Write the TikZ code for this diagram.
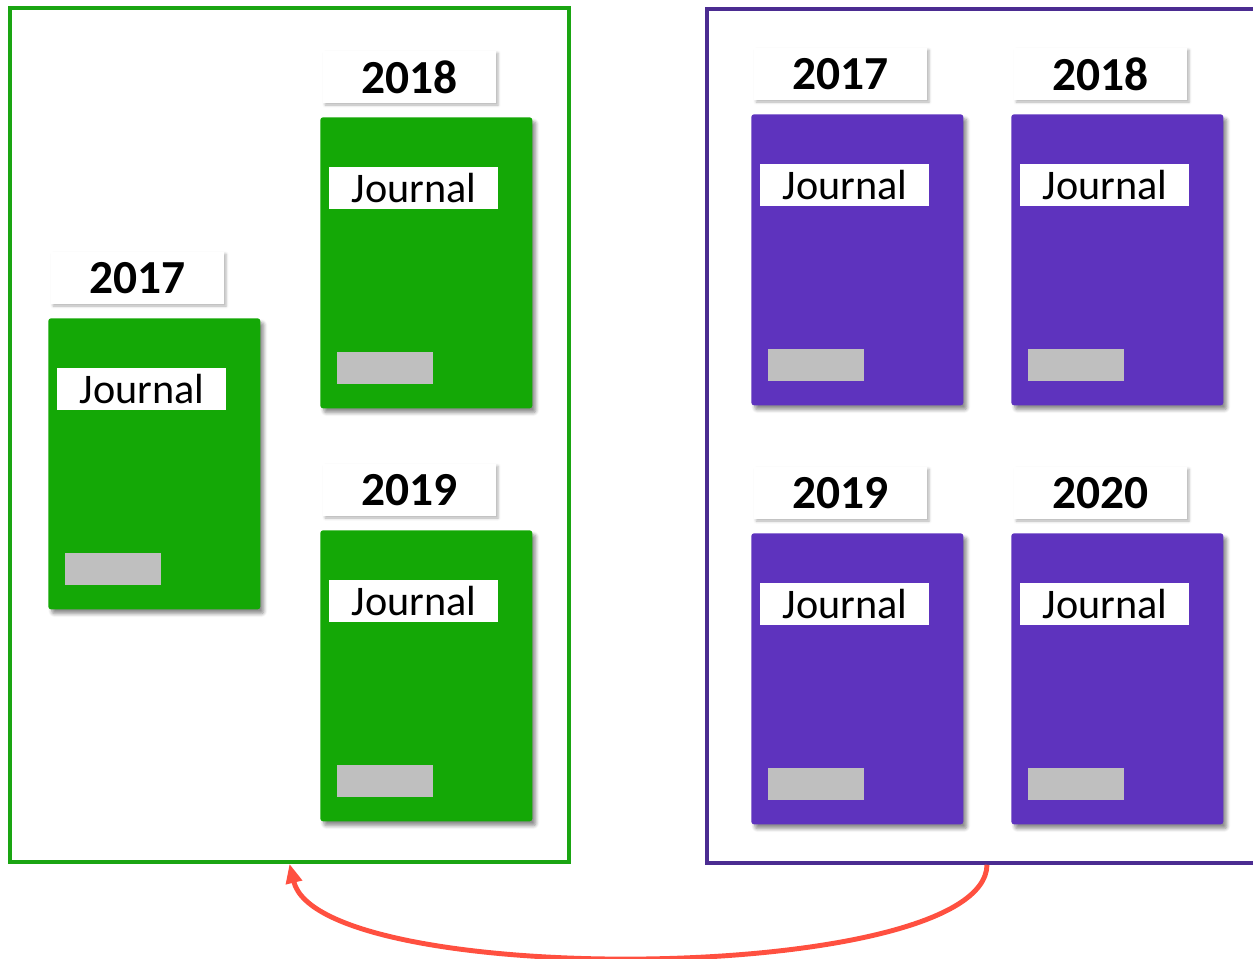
\documentclass[tikz,border=0pt]{standalone}
\usepackage{fontspec}
\setmainfont{Carlito}
\usetikzlibrary{arrows.meta,shadows.blur}

\definecolor{covergreen}{HTML}{14A806}
\definecolor{framegreen}{HTML}{1AA512}
\definecolor{coverpurple}{HTML}{5E33BE}
\definecolor{framepurple}{HTML}{4B2C91}
\definecolor{bargray}{HTML}{BFBFBF}
\definecolor{arrowred}{HTML}{FF5040}

\tikzset{
  frame/.style={draw, line width=2.1pt, inner sep=0pt},
  cover/.style={anchor=north west, inner sep=0pt, rounded corners=1.5pt,
    minimum width=4.24cm, minimum height=5.82cm,
    blur shadow={shadow xshift=2pt, shadow yshift=-2.5pt, shadow blur radius=2pt,
      shadow blur steps=6, shadow opacity=45}},
  yearbox/.style={anchor=north west, fill=white, inner sep=0pt,
    minimum width=3.46cm, minimum height=1.04cm,
    font=\bfseries\fontsize{27}{29}\selectfont,
    blur shadow={shadow xshift=1pt, shadow yshift=-1pt, shadow blur radius=1.5pt,
      shadow blur steps=4, shadow opacity=30}},
  titlebox/.style={anchor=north west, fill=white, inner sep=0pt,
    minimum width=3.38cm, minimum height=0.84cm,
    font=\fontsize{24}{26}\selectfont},
  barbox/.style={anchor=north west, fill=bargray, inner sep=0pt,
    minimum width=1.92cm, minimum height=0.64cm},
  move/.style={draw=arrowred, line width=2.8pt, -{Triangle[length=11pt,width=9pt]}}
}

% one journal cover: name, top left corner (x,y), year, colour
\newcommand{\journalbook}[5]{%
  \node[cover, fill=#5] (#1) at (#2,#3) {};
  \node[yearbox] (#1-year) at ([shift={(3,-66)}]#1.north west) {#4};
  \node[titlebox] (#1-title) at ([shift={(9,50)}]#1.north west) {Journal};
  \node[barbox] (#1-bar) at ([shift={(17,235)}]#1.north west) {};
}

\begin{document}
\begin{tikzpicture}[x=0.02cm, y=-0.02cm]
  \clip (0,0) rectangle (1253,958);

  % the two sets
  \node[frame, draw=framegreen, minimum width=11.18cm, minimum height=17.08cm] (oldset) at (289.5,435) {};
  \node[frame, draw=framepurple, minimum width=11.2cm, minimum height=17.08cm] (newset) at (987,436) {};

  % left set
  \journalbook{g17}{48}{318}{2017}{covergreen}
  \journalbook{g18}{320}{117}{2018}{covergreen}
  \journalbook{g19}{320}{530}{2019}{covergreen}

  % right set
  \journalbook{p17}{751}{114}{2017}{coverpurple}
  \journalbook{p18}{1011}{114}{2018}{coverpurple}
  \journalbook{p19}{751}{533}{2019}{coverpurple}
  \journalbook{p20}{1011}{533}{2020}{coverpurple}

  % back to the old set
  \draw[move] (newset.south) .. controls (985,985) and (320,990) .. (oldset.south);
\end{tikzpicture}
\end{document}
